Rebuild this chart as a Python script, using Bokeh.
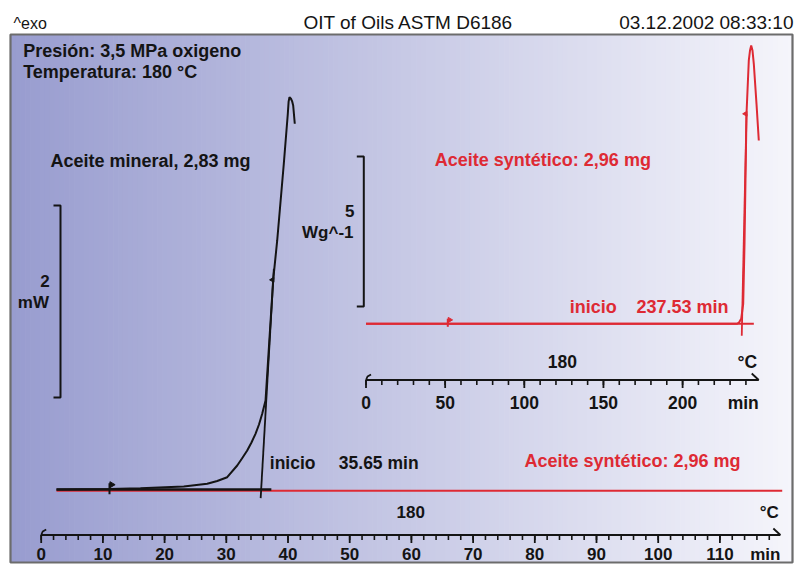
import numpy as np
from bokeh.plotting import figure
from bokeh.models import Range1d
from bokeh.core.properties import value
from bokeh.embed import file_html
from bokeh.resources import INLINE

# ---------------- data ----------------
# Mineral oil on the main scale: time [min] vs heat flow [mW]
mineral_time = [2.48, 11.07, 16.09, 23.11, 26.90, 28.53, 30.15, 31.77, 32.54, 33.39,
                34.08, 34.73, 35.30, 35.82, 36.36, 37.60, 38.25, 39.32, 39.97, 40.10,
                40.24, 40.48, 40.69, 40.84, 41.10]
mineral_heat = [0.0, 0.004, 0.012, 0.031, 0.059, 0.089, 0.128, 0.25, 0.323, 0.406,
                0.49, 0.58, 0.677, 0.789, 0.927, 2.184, 2.594, 3.393, 3.914, 4.04,
                4.086, 4.07, 4.04, 4.0, 3.81]
mineral_onset = 35.65            # min
mineral_inflection = (37.60, 2.184)
mineral_baseline_end = 37.3      # min
mineral_start_mark = 11.07       # min

# Synthetic oil on the main scale (flat over 0..120 min)
synth_main_time = [2.48, 120.1]
synth_main_heat = [-0.012, -0.012]

# Synthetic oil in the inset: time [min] vs W/g
synth_time = [0, 51.67, 120, 200, 234.49, 235.75, 237.02, 238.28, 239.11, 240.37,
              241.82, 242.58, 243.33, 244.15, 244.98, 246.68, 248.14]
synth_heat = [0, 0, 0, 0, 0, 0.05, 0.167, 0.667, 2.667, 7.0,
              8.777, 9.11, 9.277, 9.11, 8.667, 7.333, 6.11]
synth_onset = 237.53
synth_inflection = (240.37, 7.0)
synth_baseline_end = 245.0
synth_start_mark = 51.67

# Axes
main_major = [0, 10, 20, 30, 40, 50, 60, 70, 80, 90, 100, 110]
main_labels = ["0", "10", "20", "30", "40", "50", "60", "70", "80", "90", "100", "110"]
main_minor_step = 2
main_axis_end = 119.8
inset_major = [0, 50, 100, 150, 200]
inset_labels = ["0", "50", "100", "150", "200"]
inset_minor_step = 10
inset_axis_end = 248.1
temp_label = "180"

scale_mw = 2        # mW scale bar
scale_mw_bottom = 0.958
scale_wg = 5        # W/g scale bar
scale_wg_bottom = 0.577

# ---------------- layout / style ----------------
W, H = 794, 564
BLACK = "#141414"
RED = "#de2a34"
FONT = "Liberation Sans"

M_X0, M_PPX = 40.7, 6.17     # main: px of 0 min, px per min
M_Y0, M_PPY = 489.0, 96.0    # main: px of 0 mW, px per mW
I_X0, I_PPX = 365.5, 1.583
I_Y0, I_PPY = 323.3, 30.0

p = figure(width=W, height=H,
           x_range=Range1d((0 - M_X0) / M_PPX, (W - M_X0) / M_PPX),
           y_range=Range1d((M_Y0 - H) / M_PPY, (M_Y0 - 0) / M_PPY),
           x_axis_type=None, y_axis_type=None, toolbar_location=None,
           output_backend="svg", min_border=0, outline_line_color=None)
p.extra_x_ranges = {"px": Range1d(0, W),
                    "ins": Range1d((0 - I_X0) / I_PPX, (W - I_X0) / I_PPX)}
p.extra_y_ranges = {"px": Range1d(H, 0),
                    "insy": Range1d((I_Y0 - H) / I_PPY, (I_Y0 - 0) / I_PPY)}
p.background_fill_color = "white"
p.border_fill_color = "white"
p.grid.visible = False

# background gradient box
BL, BT, BR, BB = 10, 34, 792, 562
n = 160
xs = np.linspace(BL, BR, n + 1)
c0 = np.array([152, 156, 207])
c1 = np.array([245, 245, 251])
cols = []
for i in range(n):
    t = (i + 0.5) / n
    c = c0 + (c1 - c0) * t
    cols.append("#%02x%02x%02x" % tuple(int(round(v)) for v in c))
p.quad(left=xs[:-1], right=xs[1:] + 0.7, top=BT, bottom=BB, fill_color=cols,
       line_color=None, x_range_name="px", y_range_name="px")
p.quad(left=[BL], right=[BR], top=[BT], bottom=[BB], fill_color=None,
       line_color="#6c6c6c", line_width=2.2, x_range_name="px", y_range_name="px")

MID = 0.355   # offset from baseline to text middle, in em


def txt(x, base, s, size, color=BLACK, bold=True, align="left", font=FONT, xr="px"):
    p.text(x=[x], y=[base - MID * size], text=[s], text_font=value(font),
           text_font_size=value(f"{size}px"),
           text_font_style="bold" if bold else "normal",
           text_color=color, text_align=align, text_baseline="middle",
           x_range_name=xr, y_range_name="px")


# header
txt(13, 29, "^exo", 16, bold=False)
txt(408, 29, "OIT of Oils ASTM D6186", 19, bold=False, align="center")
txt(793, 29, "03.12.2002 08:33:10", 19, bold=False, align="right")

# annotations
txt(22.7, 57, "Presión: 3,5 MPa oxigeno", 18)
txt(22.7, 77.5, "Temperatura: 180 °C", 18)
txt(50, 166.7, "Aceite mineral, 2,83 mg", 18)
txt(434.3, 165.7, "Aceite syntético: 2,96 mg", 18, color=RED)
txt(524, 467.3, "Aceite syntético: 2,96 mg", 18, color=RED)
txt(569.3, 313.3, "inicio", 18, color=RED)
txt(636, 313.3, f"{synth_onset:.2f} min", 18, color=RED)
txt(269.3, 468.3, "inicio", 17.5)
txt(338.3, 468.3, f"{mineral_onset:.2f} min", 17.5)

# scale bars
def bracket(xpx, y0, span, yr, serif=7):
    ys = [y0, y0 + span]
    p.line(x=[xpx - serif, xpx, xpx, xpx - serif], y=[ys[0], ys[0], ys[1], ys[1]],
           line_color=BLACK, line_width=2, x_range_name="px", y_range_name=yr)

bracket(60, scale_mw_bottom, scale_mw, "default")
txt(49.3, 286.7, str(scale_mw), 17, align="right")
txt(48.5, 308.3, "mW", 17, align="right")
bracket(363.3, scale_wg_bottom, scale_wg, "insy")
txt(354, 216.7, str(scale_wg), 17, align="right")
txt(353, 238.3, "Wg^-1", 17, align="right")

# axes
def draw_axis(xr, ppx, ypx, major, labels, minor_step, end, lab_base, lab_size, temp_base):
    minor = list(np.arange(0, end - 1e-9, minor_step))
    p.segment(x0=minor, x1=minor, y0=[ypx] * len(minor), y1=[ypx + 5] * len(minor),
              line_color=BLACK, line_width=1.6, x_range_name=xr, y_range_name="px")
    p.segment(x0=major, x1=major, y0=[ypx] * len(major), y1=[ypx + 8] * len(major),
              line_color=BLACK, line_width=1.8, x_range_name=xr, y_range_name="px")
    p.line(x=[0, end], y=[ypx, ypx], line_color=BLACK, line_width=2,
           x_range_name=xr, y_range_name="px")
    p.line(x=[0, 1.5 / ppx, 5 / ppx], y=[ypx, ypx - 3.5, ypx - 5.5], line_color=BLACK,
           line_width=1.8, x_range_name=xr, y_range_name="px")
    p.line(x=[end - 7 / ppx, end], y=[ypx - 6.5, ypx], line_color=BLACK,
           line_width=1.8, x_range_name=xr, y_range_name="px")
    p.text(x=major, y=[lab_base - MID * lab_size] * len(major), text=labels,
           text_font=value(FONT), text_font_size=value(f"{lab_size}px"),
           text_font_style="bold", text_color=BLACK, text_align="center",
           text_baseline="middle", x_range_name=xr, y_range_name="px")
    txt(end, lab_base, "min", lab_size, align="right", xr=xr)
    txt(end / 2, temp_base, temp_label, lab_size, align="center", xr=xr)
    txt(end - 1.5 / ppx, temp_base, "°C", lab_size, align="right", xr=xr)

draw_axis("default", M_PPX, 534.5, main_major, main_labels, main_minor_step,
          main_axis_end, 560, 17, 518)
draw_axis("ins", I_PPX, 379.5, inset_major, inset_labels, inset_minor_step,
          inset_axis_end, 408.3, 17.5, 367.3)

# ---- curves ----
# synthetic on main scale
p.line(synth_main_time, synth_main_heat, line_color=RED, line_width=2)
# mineral baseline tangent
p.line([mineral_time[0], mineral_baseline_end], [0, 0], line_color=BLACK, line_width=2.6)
# mineral onset tangent
mx, my = mineral_inflection
ty = [-0.09, 2.30]
tx = [mineral_onset + (y / my) * (mx - mineral_onset) for y in ty]
p.line(tx, ty, line_color=BLACK, line_width=1.8)
p.line(mineral_time, mineral_heat, line_color=BLACK, line_width=2)
p.segment(x0=[mineral_start_mark], x1=[mineral_start_mark], y0=[-0.05], y1=[0.065],
          line_color=BLACK, line_width=2)
p.scatter([mineral_start_mark + 0.35], [0.05], marker="triangle", size=6, angle=-np.pi / 2,
          fill_color=BLACK, line_color=BLACK)
p.scatter([mx - 0.12], [my], marker="triangle", size=5, angle=np.pi / 2,
          fill_color=BLACK, line_color=BLACK)

# synthetic inset
p.line([0, synth_baseline_end], [0, 0], line_color=RED, line_width=2,
       x_range_name="ins", y_range_name="insy")
sx, sy = synth_inflection
tyy = [-0.4, sy]
txx = [synth_onset + (y / sy) * (sx - synth_onset) for y in tyy]
p.line(txx, tyy, line_color=RED, line_width=1.8, x_range_name="ins", y_range_name="insy")
p.line(synth_time, synth_heat, line_color=RED, line_width=2,
       x_range_name="ins", y_range_name="insy")
p.segment(x0=[synth_start_mark], x1=[synth_start_mark], y0=[-0.1], y1=[0.17],
          line_color=RED, line_width=2, x_range_name="ins", y_range_name="insy")
p.scatter([synth_start_mark + 1.2], [0.13], marker="triangle", size=5, angle=-np.pi / 2,
          fill_color=RED, line_color=RED, x_range_name="ins", y_range_name="insy")
p.scatter([sx - 0.6], [sy], marker="triangle", size=5, angle=np.pi / 2,
          fill_color=RED, line_color=RED, x_range_name="ins", y_range_name="insy")

open("out.html", "w").write(file_html(p, INLINE))
